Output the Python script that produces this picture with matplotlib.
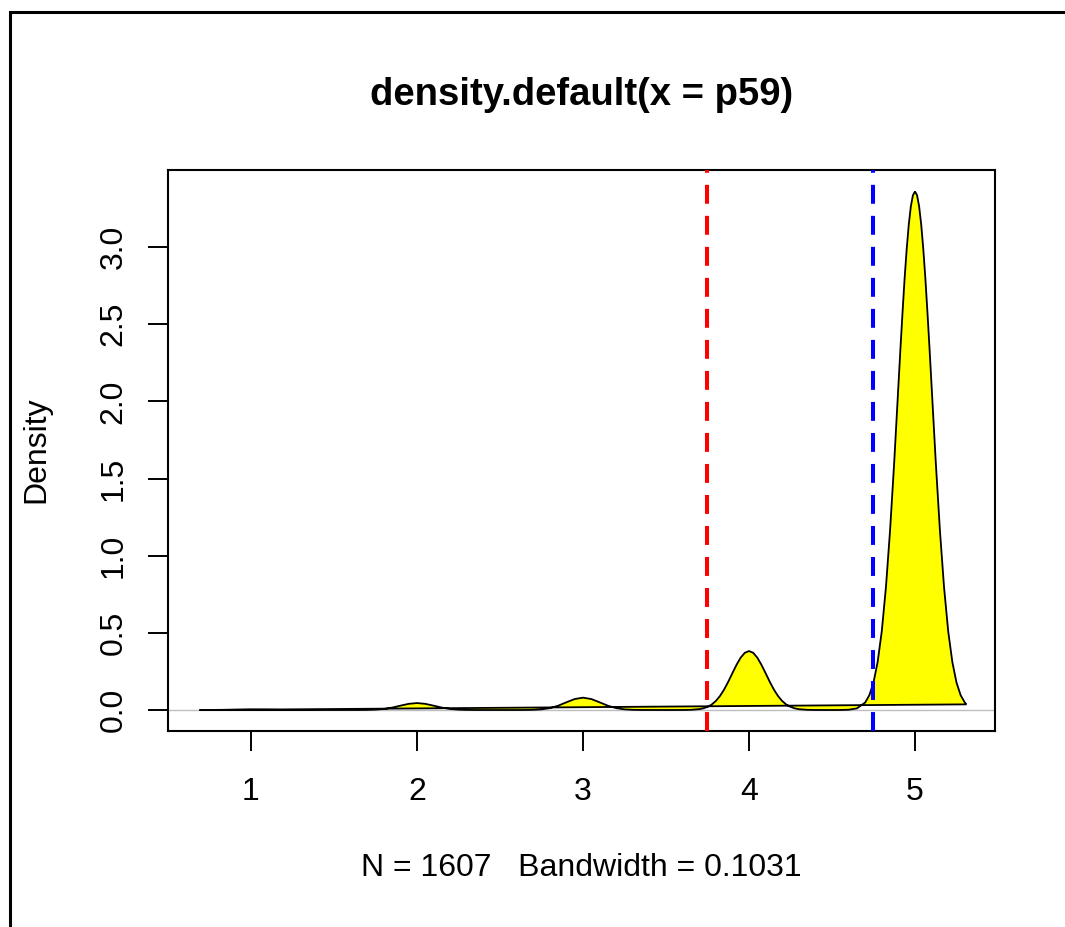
import numpy as np
import matplotlib.pyplot as plt
from matplotlib.patches import Rectangle

# density curve (x, estimated density)
x = [0.69, 0.8, 0.9, 1.0, 1.1, 1.2, 1.4, 1.6, 1.65, 1.7,
     1.75, 1.8, 1.85, 1.9, 1.95, 2.0, 2.05, 2.1, 2.15, 2.2,
     2.25, 2.3, 2.35, 2.45, 2.55, 2.65, 2.7, 2.75, 2.8, 2.85,
     2.9, 2.95, 3.0, 3.05, 3.1, 3.15, 3.2, 3.25, 3.3, 3.35,
     3.45, 3.55, 3.6, 3.65, 3.7, 3.725, 3.75, 3.775, 3.8, 3.825,
     3.85, 3.875, 3.9, 3.925, 3.95, 3.975, 4.0, 4.025, 4.05, 4.075,
     4.1, 4.125, 4.15, 4.175, 4.2, 4.225, 4.25, 4.275, 4.3, 4.35,
     4.4, 4.5, 4.55, 4.6, 4.65, 4.7, 4.725, 4.75, 4.775, 4.8,
     4.825, 4.85, 4.875, 4.9, 4.9125, 4.925, 4.9375, 4.95, 4.9625, 4.975, 4.9875,
     5.0, 5.0125, 5.025, 5.0375, 5.05, 5.0625, 5.075, 5.0875, 5.1,
     5.125, 5.15, 5.175, 5.2, 5.225, 5.25, 5.275, 5.3, 5.31]
dens = [0.0, 0.0004, 0.0019, 0.003, 0.0019, 0.0004, 0.0, 0.0, 0.0001, 0.0007,
        0.0024, 0.0068, 0.0156, 0.0281, 0.040, 0.045, 0.040, 0.0281, 0.0156, 0.0068,
        0.0024, 0.0007, 0.0001, 0.0, 0.0, 0.0002, 0.0012, 0.0042, 0.0122, 0.0278,
        0.050, 0.0711, 0.080, 0.0711, 0.050, 0.0278, 0.0122, 0.0042, 0.0012, 0.0002,
        0.0, 0.0, 0.0002, 0.0012, 0.0055, 0.0109, 0.0202, 0.0353, 0.0581, 0.0905,
        0.1326, 0.183, 0.2388, 0.293, 0.3396, 0.3709, 0.382, 0.3709, 0.3396, 0.293,
        0.2388, 0.183, 0.1326, 0.0905, 0.0581, 0.0353, 0.0202, 0.0109, 0.0055, 0.0012,
        0.0002, 0.0, 0.0002, 0.0017, 0.0104, 0.0487, 0.0958, 0.178, 0.311, 0.511,
        0.796, 1.166, 1.609, 2.100, 2.344, 2.577, 2.797, 2.987, 3.145, 3.263, 3.335,
        3.36, 3.335, 3.263, 3.145, 2.987, 2.797, 2.577, 2.344, 2.100,
        1.609, 1.166, 0.796, 0.511, 0.311, 0.178, 0.0958, 0.0487, 0.0366]

n_obs = 1607
bw = 0.1031
cut_vals = [3.75, 4.75]
cut_cols = ['#ff0000', '#0000ff']
xticks = [1, 2, 3, 4, 5]
yticks = [0.0, 0.5, 1.0, 1.5, 2.0, 2.5, 3.0]

plt.rcParams['font.family'] = ['Liberation Sans', 'DejaVu Sans']

W, H = 1065, 927
fig = plt.figure(figsize=(W / 100, H / 100), dpi=100)
ax = fig.add_axes([168 / W, 1 - 731 / H, (995 - 168) / W, (731 - 170) / H])

ax.axhline(0, color='#bebebe', lw=1.0, zorder=1)
ax.fill(x, dens, facecolor='yellow', edgecolor='black', lw=1.3, zorder=2)
for v, c in zip(cut_vals, cut_cols):
    ax.axvline(v, color=c, lw=2.9, ls=(0, (4.7, 3.0)), dash_capstyle='butt', zorder=3)

ax.set_xlim(0.5, 5.482)
ax.set_ylim(-0.136, 3.499)
ax.set_xticks(xticks)
ax.set_xticklabels([str(t) for t in xticks])
ax.set_yticks(yticks)
ax.set_yticklabels(['%.1f' % t for t in yticks], rotation=90, va='center')
ax.tick_params(length=14.4, width=1.4, labelsize=23, color='black')
ax.tick_params(axis='x', pad=19)
ax.tick_params(axis='y', pad=14)
for s in ax.spines.values():
    s.set_linewidth(1.5)

cx = (168 + 995) / 2 / W
fig.text(cx, 1 - 95 / H, 'density.default(x = p59)', ha='center', va='center',
         fontsize=27.5, fontweight='bold')
fig.text(cx, 1 - 868 / H, 'N = %d   Bandwidth = %.4f' % (n_obs, bw),
         ha='center', va='center', fontsize=23)
fig.text(36 / W, 1 - 450 / H, 'Density', rotation=90, ha='center', va='center',
         fontsize=23)

# outer frame (runs off the right and bottom edges)
fig.add_artist(Rectangle((10 / W, -0.2), 2, 1 - 12 / H + 0.2, transform=fig.transFigure,
                         fill=False, lw=2.2, edgecolor='black'))

fig.savefig('out.png', dpi=100)
